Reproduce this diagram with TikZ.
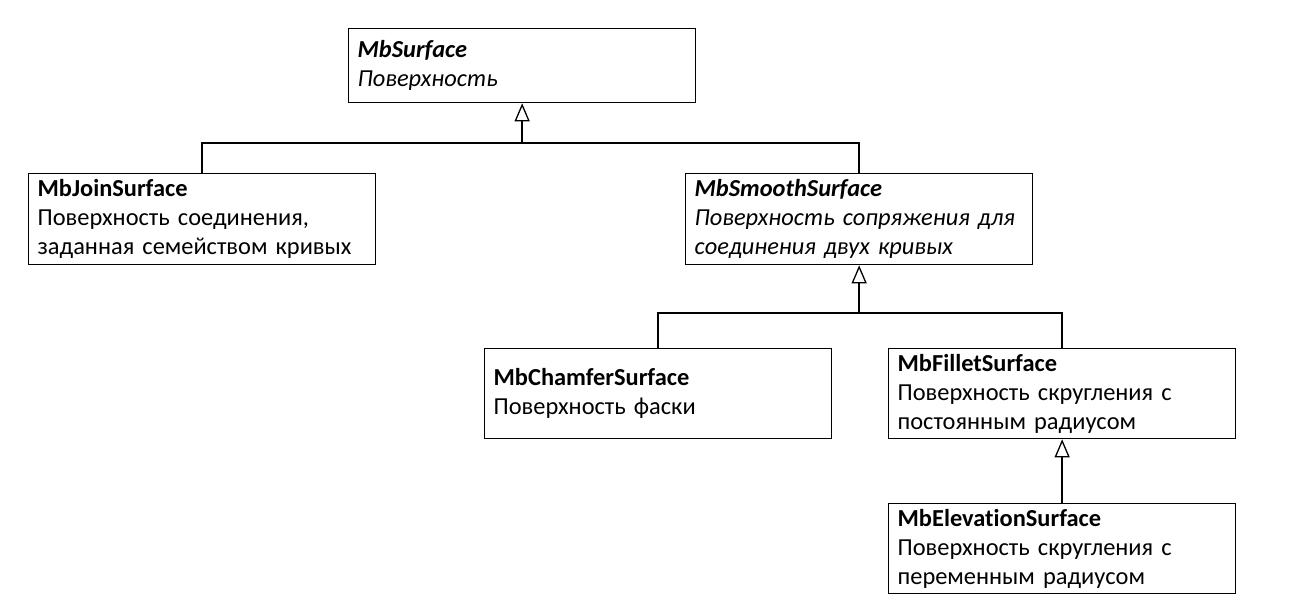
\documentclass[tikz,border=0pt]{standalone}
\usepackage{fontspec}
\setmainfont{Carlito}[Ligatures={NoCommon}]
\usetikzlibrary{arrows.meta}

\begin{document}
\begin{tikzpicture}[x=1bp, y=-1bp,
    font=\fontsize{24.5}{29}\selectfont,
    cls/.style={draw, line width=1.3bp, anchor=north west,
      text width=329bp, inner xsep=9bp, inner ysep=0bp, align=left,
      minimum width=347bp},
    inh/.style={line width=2bp, -{Triangle[open, length=18bp, width=15bp, line width=1.3bp]}},
    tie/.style={line width=2bp}]
  \useasboundingbox (0, 0) rectangle (1302, 613);
  % classes
  \node[cls, minimum height=74bp] (surf) at (348, 28)
    {\textbf{\textit{MbSurface}}\\ \textit{Поверхность}};
  \node[cls, minimum height=91bp] (join) at (28, 173)
    {\textbf{MbJoinSurface}\\ Поверхность соединения,\\ заданная семейством кривых};
  \node[cls, minimum height=91bp] (smooth) at (685, 173)
    {\textbf{\textit{MbSmoothSurface}}\\ \textit{Поверхность сопряжения для}\\ \textit{соединения двух кривых}};
  \node[cls, minimum height=90bp] (chamfer) at (484, 348)
    {\textbf{MbChamferSurface}\\ Поверхность фаски};
  \node[cls, minimum height=90bp] (fillet) at (888, 348)
    {\textbf{MbFilletSurface}\\ Поверхность скругления с\\ постоянным радиусом};
  \node[cls, minimum height=90bp] (elev) at (888, 503)
    {\textbf{MbElevationSurface}\\ Поверхность скругления с\\ переменным радиусом};
  % junctions
  \coordinate (j1) at (surf.south |- 0, 143);
  \coordinate (j2) at (smooth.south |- 0, 313);
  % inheritance
  \draw[inh] (j1) -- (surf.south);
  \draw[tie] (join.north) |- (j1) -| (smooth.north);
  \draw[inh] (j2) -- (smooth.south);
  \draw[tie] (chamfer.north) |- (j2) -| (fillet.north);
  \draw[inh] (elev.north) -- (fillet.south);
\end{tikzpicture}
\end{document}
